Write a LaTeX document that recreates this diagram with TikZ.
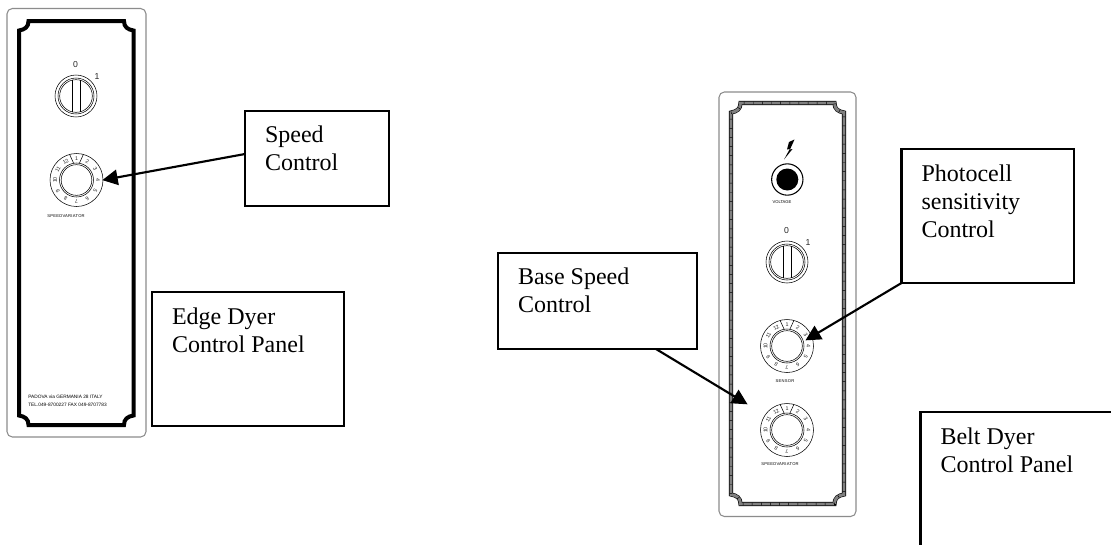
\documentclass[tikz,border=0pt]{standalone}
\usepackage{fontspec}
\setmainfont{Liberation Serif}
\newfontfamily\panelfont{Liberation Sans}
\newfontfamily\panelspaced[LetterSpace=6]{Liberation Sans}
\usetikzlibrary{arrows.meta}
\newdimen\pxu \pxu=0.75pt
\newcommand{\boxtext}[3]{\parbox[c][\dimexpr#2\pxu-18.6pt\relax][t]{\dimexpr#1\pxu-30pt\relax}{\raggedright\strut #3}}
\newcommand{\panelpath}[5]{% L T R B c
  (#1,#2+#5) .. controls (#1+6,#2+#5-1) and (#1+#5,#2+6) .. (#1+#5,#2)
  -- (#3-#5,#2) .. controls (#3-#5,#2+6) and (#3-6,#2+#5-1) .. (#3,#2+#5)
  -- (#3,#4-#5) .. controls (#3-6,#4-#5+1) and (#3-#5,#4-6) .. (#3-#5,#4)
  -- (#1+#5,#4) .. controls (#1+#5,#4-6) and (#1+6,#4-#5+1) .. (#1,#4-#5) -- cycle}
\newcommand{\dialknob}[3]{%
  \node[ring,minimum size=39.75pt] (#1) at (#2,#3) {};
  \node[ring,minimum size=25.5pt] (#1in) at (#2,#3) {};
  \node[ring,minimum size=23pt] (#1core) at (#2,#3) {};
  \draw[thinpart] ({#2-2.9},{#3-16.8}) -- ({#2-6.9},{#3-25.6});
  \draw[thinpart] ({#2+2.9},{#3-16.8}) -- ({#2+6.9},{#3-25.6});
  \foreach \i in {1,...,12}{
    \pgfmathsetmacro{\a}{(\i-1)*30}
    \node[dialnum,rotate=-\a] (#1n\i) at ({#2+21.5*sin(\a)},{#3-21.5*cos(\a)}) {\i};
  }}
\newcommand{\switchknob}[3]{%
  \node[ring,minimum size=31.5pt] (#1) at (#2,#3) {};
  \node[ring,minimum size=27pt] (#1in) at (#2,#3) {};
  \node[ring,minimum size=24.5pt] (#1core) at (#2,#3) {};
  \draw[thinpart] ({#2-4},{#3-15.8}) -- ({#2-4},{#3+15.8});
  \draw[thinpart] ({#2+4},{#3-15.8}) -- ({#2+4},{#3+15.8});
  \node[switchnum] (#1zero) at ({#2-0.5},{#3-31.5}) {0};
  \node[switchnum] (#1one) at ({#2+21},{#3-19}) {1};}
\tikzset{
  ring/.style={circle,draw=black,line width=0.4pt,inner sep=0pt,outer sep=0pt},
  thinpart/.style={draw=black,line width=0.4pt},
  dialnum/.style={font=\panelfont\fontsize{4}{4}\selectfont,inner sep=0pt,text=black!85},
  switchnum/.style={font=\panelfont\fontsize{6.5}{7}\selectfont,inner sep=0pt,text=black!85},
  tinylabel/.style={font=\panelspaced\fontsize{3.1}{5.6}\selectfont,inner sep=0pt,align=left},
  labelbox/.style={draw=black,line width=1.6pt,anchor=north west,inner xsep=15pt,inner ysep=9.3pt,outer sep=0pt,
    font=\fontsize{18}{21}\selectfont,align=left},
  casing/.style={draw=black!45,line width=0.8pt,rounded corners=4pt},
  pointer/.style={draw=black,line width=1.6pt,-{Triangle[length=11.5pt,width=11.5pt]},shorten >=-0.5pt}
}
\begin{document}
\begin{tikzpicture}[x=0.75pt,y=-0.75pt]
\useasboundingbox (0,0) rectangle (1111,544);
\clip (0,0) rectangle (1111,544);
\fill[white] (0,0) rectangle (1111,544);
% left panel
\draw[casing] (7,8.5) rectangle (146,437);
\draw[black,line width=3pt] \panelpath{19}{21}{133.5}{425}{9.5};
\switchknob{swA}{76}{96}
\dialknob{dialA}{76.5}{180}
\node[tinylabel] (lblA) at (66,216) {SPEEDVARIATOR};
\node[tinylabel,anchor=west,font=\panelfont\fontsize{3.6}{6}\selectfont] (addr) at (28,401) {PADOVA via GERMANIA 28 ITALY\\TEL.049-8700227 FAX 049-8707783};
% right panel
\draw[casing] (719,92) rectangle (856,516.5);
\draw[black,line width=3.1pt] \panelpath{731}{103}{844}{504}{9.5};
\draw[black!50,line width=2.2pt] \panelpath{731}{103}{844}{504}{9.5};
\draw[black,line width=2.2pt,dash pattern=on 0.35pt off 6.5pt] \panelpath{731}{103}{844}{504}{9.5};
\fill[black] (794.5,139.5) -- (789,142) -- (787,149.5) -- (789.8,149) -- (784,159.5) -- (792.5,149) -- (790,149.5) -- cycle;
\node[circle,draw=black,fill=white,line width=0.8pt,minimum size=23.5pt,inner sep=0pt,outer sep=0pt] (lamp) at (787.3,179.5) {};
\node[circle,fill=black,minimum size=16.5pt,inner sep=0pt] (lampcore) at (787.3,179.5) {};
\node[tinylabel,font=\panelfont\fontsize{3.1}{4}\selectfont] (lblV) at (782,202) {VOLTAGE};
\switchknob{swB}{787}{262}
\dialknob{dialB}{787}{346}
\node[tinylabel] (lblS) at (785,381) {SENSOR};
\dialknob{dialC}{787}{430}
\node[tinylabel] (lblC) at (780,464) {SPEEDVARIATOR};
% label boxes
\node[labelbox] (speedbox) at (245,110.7) {\boxtext{144}{95.5}{Speed\\Control}};
\node[labelbox] (edgebox) at (152,292) {\boxtext{192}{134}{Edge Dyer\\Control Panel}};
\node[labelbox] (basebox) at (498,252.7) {\boxtext{199}{96}{Base Speed\\Control}};
\node[labelbox] (photobox) at (901.5,149) {\boxtext{172.5}{134}{Photocell\\sensitivity\\Control}};
\node[labelbox] (beltbox) at (920.5,412) {\boxtext{220}{160}{Belt Dyer\\Control Panel}};
% connectors
\coordinate (speedstart) at (245,154);
\coordinate (basestart) at (656,349);
\coordinate (basetip) at (747,404);
\coordinate (phototip) at (806,340);
\draw[pointer] (speedstart) -- (dialA.east);
\draw[pointer] (basestart) -- (basetip);
\draw[pointer] (photobox.south west) -- (phototip);
\end{tikzpicture}
\end{document}
